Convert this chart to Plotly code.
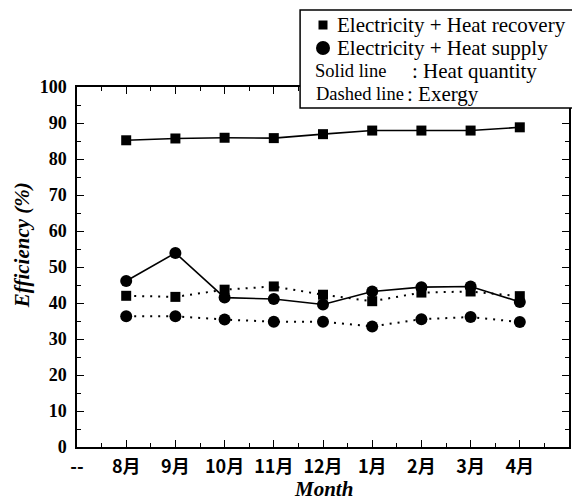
import plotly.graph_objects as go

months = ["8月", "9月", "10月", "11月", "12月", "1月", "2月", "3月", "4月"]
tick_labels = ["--"] + months
x_pos = [1, 2, 3, 4, 5, 6, 7, 8, 9]

recovery_heat = [85.2, 85.7, 85.9, 85.8, 86.9, 87.9, 87.9, 87.9, 88.8]
recovery_exergy = [42.0, 41.7, 43.7, 44.6, 42.3, 40.5, 42.9, 43.2, 41.9]
supply_heat = [46.1, 53.9, 41.5, 41.1, 39.6, 43.2, 44.4, 44.6, 40.3]
supply_exergy = [36.3, 36.3, 35.4, 34.8, 34.8, 33.5, 35.5, 36.1, 34.7]

legend_series = ["Electricity + Heat recovery", "Electricity + Heat supply"]
legend_style_names = ["Solid line", "Dashed line"]
legend_style_desc = [": Heat quantity", ": Exergy"]

W, H = 572, 500
ML, MR, MT, MB = 77, 1, 87, 53
PW, PH = W - ML - MR, H - MT - MB


def px(xp):
    return (xp - ML) / PW


def py(yp):
    return (H - MB - yp) / PH


fig = go.Figure()
dot = "2px,6px"
fig.add_trace(go.Scatter(x=x_pos, y=recovery_heat, mode="lines+markers",
                         line=dict(color="black", width=1.6),
                         marker=dict(symbol="square", size=10, color="black")))
fig.add_trace(go.Scatter(x=x_pos, y=recovery_exergy, mode="lines+markers",
                         line=dict(color="black", width=2, dash=dot),
                         marker=dict(symbol="square", size=10, color="black")))
fig.add_trace(go.Scatter(x=x_pos, y=supply_heat, mode="lines+markers",
                         line=dict(color="black", width=1.6),
                         marker=dict(symbol="circle", size=12, color="black")))
fig.add_trace(go.Scatter(x=x_pos, y=supply_exergy, mode="lines+markers",
                         line=dict(color="black", width=2, dash=dot),
                         marker=dict(symbol="circle", size=12, color="black")))

serif = "Liberation Serif"
cjk = "Noto Sans CJK JP"

fig.update_xaxes(range=[0, 10], tickmode="array", tickvals=list(range(10)),
                 ticktext=tick_labels, ticks="inside", ticklen=7, tickwidth=1.2,
                 tickcolor="black", showline=True, linecolor="black", linewidth=1.5,
                 mirror="ticks", showgrid=False, zeroline=False,
                 tickfont=dict(family=cjk, size=18, color="black", weight="bold"),
                 ticklabelstandoff=3,
                 minor=dict(tickmode="linear", tick0=0, dtick=0.5, ticks="inside",
                            ticklen=4, tickcolor="black", showgrid=False))
fig.update_yaxes(range=[0, 100], dtick=10, ticks="inside", ticklen=7, tickwidth=1.2,
                 tickcolor="black", showline=True, linecolor="black", linewidth=1.5,
                 mirror="ticks", showgrid=False, zeroline=False,
                 tickfont=dict(family=serif, size=18, color="black", weight="bold"),
                 ticklabelstandoff=5,
                 minor=dict(dtick=5, ticks="inside", ticklen=4, tickcolor="black",
                            showgrid=False))

shapes = [dict(type="rect", xref="paper", yref="paper", x0=px(301), x1=px(575),
               y0=py(108), y1=py(10), fillcolor="white",
               line=dict(color="black", width=1.5), layer="above")]
shapes.append(dict(type="rect", xref="paper", yref="paper", xsizemode="pixel",
                   ysizemode="pixel", xanchor=px(324), yanchor=py(25),
                   x0=-4.5, x1=4.5, y0=-4.5, y1=4.5, fillcolor="black",
                   line=dict(width=0), layer="above"))
shapes.append(dict(type="circle", xref="paper", yref="paper", xsizemode="pixel",
                   ysizemode="pixel", xanchor=px(324), yanchor=py(48),
                   x0=-7, x1=7, y0=-7, y1=7, fillcolor="black",
                   line=dict(width=0), layer="above"))

annos = []
lf = dict(family=serif, size=21, color="black")
nf = dict(family=serif, size=18.5, color="black")
for i, t in enumerate(legend_series):
    annos.append(dict(text=t, xref="paper", yref="paper", x=px(336), y=py(25 + 23 * i),
                      xanchor="left", yanchor="middle", showarrow=False, font=lf))
name_x = [314, 315]
desc_x = [411, 406]
for i in range(2):
    annos.append(dict(text=legend_style_names[i], xref="paper", yref="paper",
                      x=px(name_x[i]), y=py(71 + 23 * i), xanchor="left",
                      yanchor="middle", showarrow=False, font=nf))
    annos.append(dict(text=legend_style_desc[i], xref="paper", yref="paper",
                      x=px(desc_x[i]), y=py(71 + 23 * i), xanchor="left",
                      yanchor="middle", showarrow=False, font=lf))

tf = dict(family=serif, size=21, color="black", weight="bold", style="italic")
annos.append(dict(text="Efficiency (%)", xref="paper", yref="paper", x=px(22), y=py(245),
                  xanchor="center", yanchor="middle", textangle=-90, showarrow=False,
                  font=tf))
annos.append(dict(text="Month", xref="paper", yref="paper", x=px(324), y=py(489),
                  xanchor="center", yanchor="middle", showarrow=False, font=tf))

fig.update_layout(width=W, height=H, margin=dict(l=ML, r=MR, t=MT, b=MB),
                  paper_bgcolor="white", plot_bgcolor="white", showlegend=False,
                  shapes=shapes, annotations=annos)

fig.write_html("out.html", config={"displayModeBar": False},
               post_script="document.body.style.margin='0px';"
                           "document.body.style.overflow='hidden';")
